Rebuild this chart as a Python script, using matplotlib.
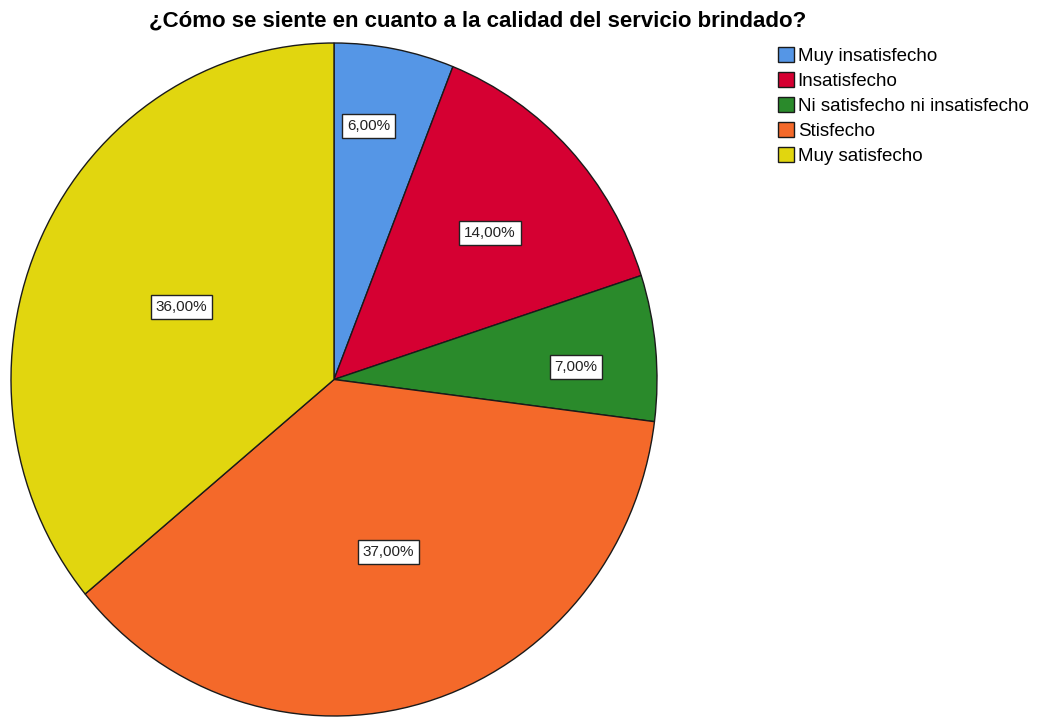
import matplotlib
matplotlib.use("Agg")
import matplotlib.pyplot as plt
import numpy as np

plt.rcParams['font.family'] = ['Liberation Sans', 'DejaVu Sans']

# datos de la encuesta
categorias = ["Muy insatisfecho", "Insatisfecho", "Ni satisfecho ni insatisfecho",
              "Stisfecho", "Muy satisfecho"]
porcentajes = [6.0, 14.0, 7.0, 37.0, 36.0]
colores = ["#5596E6", "#D50032", "#2A8A2B", "#F4692A", "#E1D60F"]
# posicion de cada etiqueta: distancia radial y giro respecto al centro del sector
dist_etiqueta = [0.76, 0.65, 0.75, 0.54, 0.52]
giro_etiqueta = [2.7, -1.2, -2.6, 2.0, 0.6]

fig = plt.figure(figsize=(10.37, 7.18), dpi=100)
W, H = 1037, 718
# el pastel ocupa x 11..657, y 43..716 (pixeles)
ax = fig.add_axes([11 / W, (H - 716) / H, 646 / W, 673 / H])

wedges, _ = ax.pie(porcentajes, colors=colores, startangle=90, counterclock=False,
                   wedgeprops=dict(edgecolor="#1a1a1a", linewidth=1.0))
ax.set_aspect('auto')
ax.set_xlim(-1.0, 1.0)
ax.set_ylim(-1.0, 1.0)
ax.axis('off')

# etiquetas con porcentaje en cajas blancas
acum = 0.0
total = sum(porcentajes)
for p, r, g in zip(porcentajes, dist_etiqueta, giro_etiqueta):
    mid = 90 - (acum + p / 2) / total * 360 + g
    acum += p
    x = r * np.cos(np.radians(mid))
    y = r * np.sin(np.radians(mid))
    ax.text(x, y, f"{p:.2f}%".replace(".", ","), ha='center', va='center', fontsize=11,
            color='#222222',
            bbox=dict(boxstyle='square,pad=0.32', facecolor='white', edgecolor='#222222', linewidth=1.0))

fig.text(478 / W, 1 - 21 / H, "¿Cómo se siente en cuanto a la calidad del servicio brindado?",
         ha='center', va='center', fontsize=16, fontweight='bold')

fig.legend(wedges, categorias, loc='upper left', bbox_to_anchor=(778 / W, 1 - 47 / H),
           frameon=False, fontsize=13.5, handlelength=0.85, handleheight=0.85,
           handletextpad=0.2, labelspacing=0.38, borderpad=0, borderaxespad=0)

fig.savefig("out.png", dpi=100)
